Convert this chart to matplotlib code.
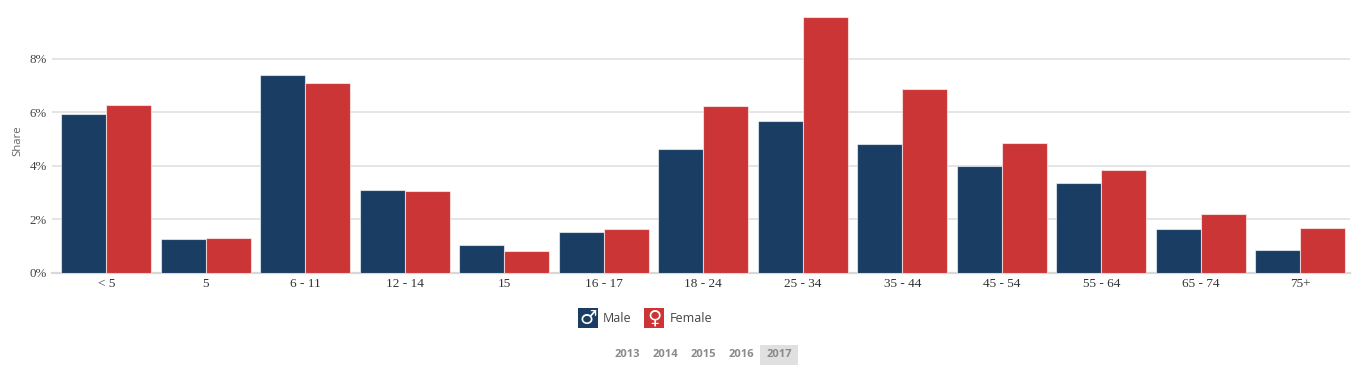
import matplotlib
matplotlib.use('Agg')
import matplotlib.pyplot as plt
from matplotlib.patches import Rectangle

categories = ['< 5', '5', '6 - 11', '12 - 14', '15', '16 - 17', '18 - 24', '25 - 34',
              '35 - 44', '45 - 54', '55 - 64', '65 - 74', '75+']
male = [5.95, 1.27, 7.40, 3.10, 1.03, 1.52, 4.64, 5.68, 4.82, 3.99, 3.36, 1.63, 0.84]
female = [6.28, 1.31, 7.10, 3.07, 0.82, 1.63, 6.25, 9.57, 6.88, 4.85, 3.85, 2.19, 1.67]
yticks = [0, 2, 4, 6, 8]
years = ['2013', '2014', '2015', '2016', '2017']
year_x = [627, 665, 703, 741, 779]
MALE = '#1a3d63'
FEMALE = '#cb3536'

W, H = 1355, 373
fig = plt.figure(figsize=(W / 100, H / 100), dpi=100, facecolor='white')
left, right, top, bottom = 52, 1350, 10, 272.5
ax = fig.add_axes([left / W, 1 - bottom / H, (right - left) / W, (bottom - top) / H])
ppx = 26.7
ax.set_ylim(0, (bottom - top) / ppx)
step = 99.5
x0 = (106.3 - left) / step
ax.set_xlim(-x0, (right - left) / step - x0)
pos = list(range(len(categories)))
w = 45 / step
edge = (1, 1, 1, 0.6)
ax.bar([p - w / 2 for p in pos], male, w, color=MALE, edgecolor=edge, linewidth=0.8, zorder=3)
ax.bar([p + w / 2 for p in pos], female, w, color=FEMALE, edgecolor=edge, linewidth=0.8, zorder=3)
for s in ax.spines.values():
    s.set_visible(False)
ax.set_axisbelow(True)
ax.set_yticks(yticks)
ax.set_yticklabels([f'{v}%' for v in yticks], family='Liberation Serif', fontsize=9.3, color='#444444')
ax.set_xticks(pos)
ax.set_xticklabels(categories, family='Liberation Serif', fontsize=9.5, color='#333333')
ax.tick_params(axis='x', length=0, pad=4.2)
ax.tick_params(axis='y', length=0, pad=3.5)
ax.grid(axis='y', color='#e3e3e3', linewidth=1.3)
ax.axhline(0, color='#d8d8d8', linewidth=1.6, zorder=2, clip_on=False)
fig.text(18 / W, 1 - 141 / H, 'Share', rotation=90, ha='center', va='center',
         fontsize=8.2, color='#666666', family='Open Sans')

def box(x, y, w_, h_, color):
    fig.patches.append(Rectangle((x / W, 1 - (y + h_) / H), w_ / W, h_ / H, transform=fig.transFigure,
                                 facecolor=color, edgecolor='none'))

box(578, 308, 20, 20, MALE)
box(644, 308, 20, 20, FEMALE)
fig.text(588 / W, 1 - 318 / H, '\u2642', ha='center', va='center', fontsize=14, color='white', family='DejaVu Sans')
fig.text(654 / W, 1 - 318 / H, '\u2640', ha='center', va='center', fontsize=14, color='white', family='DejaVu Sans')
fig.text(603 / W, 1 - 318.5 / H, 'Male', ha='left', va='center', fontsize=9, color='#444444', family='Open Sans')
fig.text(669.5 / W, 1 - 318.5 / H, 'Female', ha='left', va='center', fontsize=9, color='#444444', family='Open Sans')

box(760.5, 345, 38, 20, '#e0e0e0')
for yr, xp in zip(years, year_x):
    fig.text(xp / W, 1 - 354.5 / H, yr, ha='center', va='center', fontsize=8, color='#8a8a8a',
             family='Open Sans', fontweight='bold')
fig.savefig('out.png', dpi=100)
